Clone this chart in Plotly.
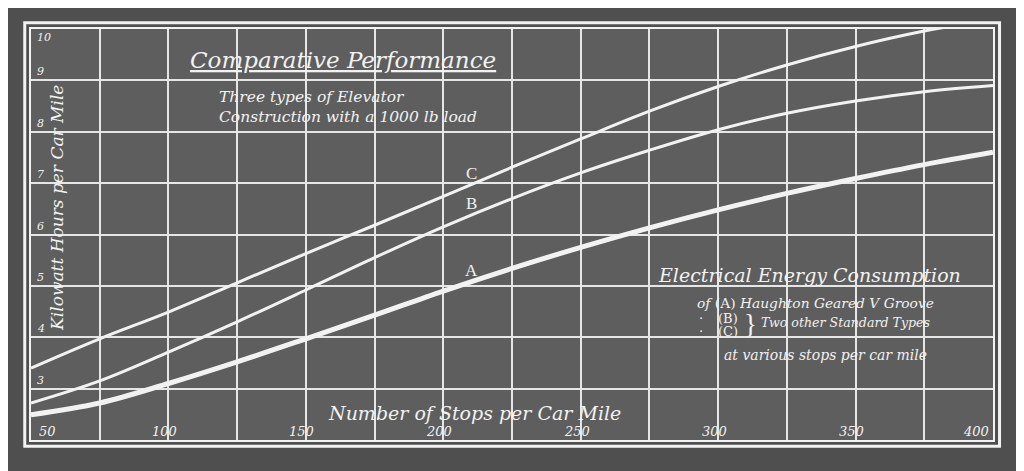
import plotly.graph_objects as go

# ---- data ----
stops = [50, 75, 100, 125, 150, 175, 200, 225, 250, 275, 300, 325, 350, 375, 400]
kwh_a = [2.49, 2.72, 3.10, 3.52, 3.97, 4.43, 4.90, 5.34, 5.75, 6.13, 6.48, 6.80, 7.09, 7.36, 7.60]
kwh_b = [2.72, 3.15, 3.71, 4.30, 4.92, 5.55, 6.15, 6.70, 7.20, 7.64, 8.04, 8.36, 8.60, 8.78, 8.90]
stops_c = [50, 75, 100, 125, 150, 175, 200, 225, 250, 275, 300, 325, 350, 375, 390]
kwh_c = [3.40, 3.97, 4.49, 5.06, 5.63, 6.18, 6.74, 7.31, 7.86, 8.40, 8.88, 9.30, 9.66, 9.96, 10.10]

x_tick_vals = [50, 100, 150, 200, 250, 300, 350, 400]
x_tick_text = ["50", "100", "150", "200", "250", "300", "350", "400"]
y_tick_vals = [3, 4, 5, 6, 7, 8, 9, 10]
y_tick_text = ["3", "4", "5", "6", "7", "8", "9", "10"]

WHITE = "#f2f2f2"
GRID = "#e6e6e6"
PLOT_BG = "#5e5e5e"
PAPER_BG = "#4f4f4f"
SERIF = "DejaVu Serif"

fig = go.Figure()
fig.add_trace(go.Scatter(x=stops_c, y=kwh_c, mode="lines", name="C",
                         line=dict(color=WHITE, width=3, shape="spline"), hoverinfo="skip"))
fig.add_trace(go.Scatter(x=stops, y=kwh_b, mode="lines", name="B",
                         line=dict(color=WHITE, width=3, shape="spline"), hoverinfo="skip"))
fig.add_trace(go.Scatter(x=stops, y=kwh_a, mode="lines", name="A",
                         line=dict(color=WHITE, width=5, shape="spline"), hoverinfo="skip"))

ann = []
# x tick labels (inside, at the bottom)
for v, t in zip(x_tick_vals, x_tick_text):
    if v == x_tick_vals[0]:
        xa, xs = "left", 6
    elif v == x_tick_vals[-1]:
        xa, xs = "right", -2
    else:
        xa, xs = "center", -4
    ann.append(dict(x=v, y=2.16, xref="x", yref="y", text="<i>%s</i>" % t, showarrow=False,
                    xanchor=xa, yanchor="middle", xshift=xs,
                    font=dict(family=SERIF, size=13, color=WHITE)))
# y tick labels (inside, just above grid lines)
for v, t in zip(y_tick_vals, y_tick_text):
    top = v == y_tick_vals[-1]
    ann.append(dict(x=50, y=v, xref="x", yref="y", text="<i>%s</i>" % t, showarrow=False,
                    xanchor="left", yanchor="top" if top else "bottom", xshift=4,
                    font=dict(family=SERIF, size=11, color=WHITE)))

# axis titles
ann.append(dict(x=59.5, y=6.52, xref="x", yref="y", text="<i>Kilowatt Hours per Car Mile</i>",
                showarrow=False, textangle=-90, xanchor="center", yanchor="middle",
                font=dict(family=SERIF, size=17, color=WHITE)))
ann.append(dict(x=211.5, y=2.53, xref="x", yref="y", text="<i>Number of Stops per Car Mile</i>",
                showarrow=False, xanchor="center", yanchor="middle",
                font=dict(family=SERIF, size=19, color=WHITE)))

# titles
ann.append(dict(x=163.5, y=9.40, xref="x", yref="y", text="<i>Comparative Performance</i>",
                showarrow=False, xanchor="center", yanchor="middle",
                font=dict(family=SERIF, size=23, color=WHITE, lineposition="under")))
ann.append(dict(x=117.5, y=8.48, xref="x", yref="y",
                text="<i>Three types of Elevator<br>Construction with a 1000 lb load</i>",
                showarrow=False, xanchor="left", yanchor="middle", align="left",
                font=dict(family=SERIF, size=15.5, color=WHITE)))

# curve letters
for lbl, yy in (("C", 7.18), ("B", 6.61), ("A", 5.29)):
    ann.append(dict(x=210.4, y=yy, xref="x", yref="y", text=lbl, showarrow=False,
                    xanchor="center", yanchor="middle",
                    font=dict(family="Liberation Serif", size=17, color=WHITE)))

# right-hand caption block
ann.append(dict(x=333.4, y=5.21, xref="x", yref="y", text="<i>Electrical Energy Consumption</i>",
                showarrow=False, xanchor="center", yanchor="middle",
                font=dict(family=SERIF, size=19, color=WHITE)))
ann.append(dict(x=291.6, y=4.67, xref="x", yref="y",
                text="<i>of</i> (A) <i>Haughton Geared V Groove</i>",
                showarrow=False, xanchor="left", yanchor="middle",
                font=dict(family=SERIF, size=13.8, color=WHITE)))
for lbl, yy in (("(B)", 4.37), ("(C)", 4.11)):
    ann.append(dict(x=292.3, y=yy, xref="x", yref="y", text="·",
                    showarrow=False, xanchor="left", yanchor="middle",
                    font=dict(family=SERIF, size=13, color=WHITE)))
    ann.append(dict(x=299.3, y=yy, xref="x", yref="y", text=lbl,
                    showarrow=False, xanchor="left", yanchor="middle",
                    font=dict(family=SERIF, size=13, color=WHITE)))
ann.append(dict(x=308.6, y=4.25, xref="x", yref="y", text="}",
                showarrow=False, xanchor="left", yanchor="middle",
                font=dict(family="Liberation Serif", size=27, color=WHITE)))
ann.append(dict(x=314.8, y=4.28, xref="x", yref="y", text="<i>Two other Standard Types</i>",
                showarrow=False, xanchor="left", yanchor="middle",
                font=dict(family=SERIF, size=12.6, color=WHITE)))
ann.append(dict(x=301.4, y=3.65, xref="x", yref="y", text="<i>at various stops per car mile</i>",
                showarrow=False, xanchor="left", yanchor="middle",
                font=dict(family=SERIF, size=14, color=WHITE)))

fig.update_layout(
    width=1024, height=471,
    # page body adds an 8px offset; margins compensate so the plot sits at 31..993 x 29..440
    margin=dict(l=23, r=39, t=21, b=39, pad=0),
    paper_bgcolor=PAPER_BG, plot_bgcolor=PLOT_BG,
    showlegend=False, hovermode=False,
    annotations=ann,
    shapes=[dict(type="rect", xref="paper", yref="paper",
                 x0=-0.0065, x1=1.0068, y0=-0.0150, y1=1.0150,
                 line=dict(color=WHITE, width=3), fillcolor="rgba(0,0,0,0)", layer="below")],
)
fig.update_xaxes(range=[50, 400], tick0=50, dtick=25, showgrid=True, gridcolor=GRID, gridwidth=1.5,
                 showticklabels=False, ticks="", zeroline=False,
                 showline=True, linecolor=WHITE, linewidth=2, mirror=True)
fig.update_yaxes(range=[2, 10], tick0=2, dtick=1, showgrid=True, gridcolor=GRID, gridwidth=1.5,
                 showticklabels=False, ticks="", zeroline=False,
                 showline=True, linecolor=WHITE, linewidth=2, mirror=True)

fig.write_html("out.html")
